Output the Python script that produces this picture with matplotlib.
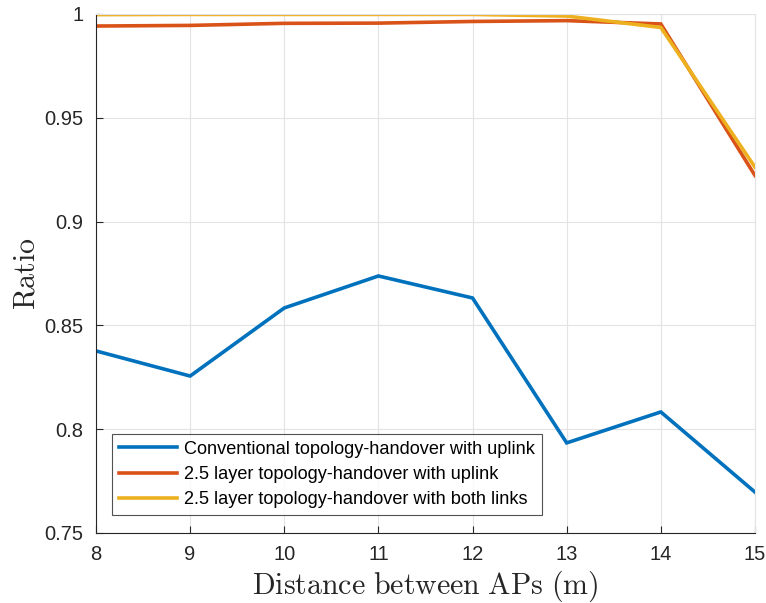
import matplotlib
matplotlib.use("Agg")
import matplotlib.pyplot as plt

distance = [8, 9, 10, 11, 12, 13, 14, 15]
conv_uplink = [0.8377, 0.8256, 0.8584, 0.8738, 0.8632, 0.7934, 0.8083, 0.7697]
layer25_uplink = [0.9942, 0.9945, 0.9955, 0.9956, 0.9964, 0.9968, 0.9952, 0.9222]
layer25_both = [0.9997, 0.9998, 0.9998, 0.9998, 0.9998, 0.9990, 0.9935, 0.9262]

labels = [
    "Conventional topology-handover with uplink",
    "2.5 layer topology-handover with uplink",
    "2.5 layer topology-handover with both links",
]
colors = ["#0072BD", "#D95319", "#EDB120"]

plt.rcParams["mathtext.fontset"] = "cm"
plt.rcParams["font.family"] = ["Liberation Sans", "DejaVu Sans"]

fig = plt.figure(figsize=(7.66, 6.03), dpi=100)
ax = fig.add_axes([0.1253, 0.1161, 0.8603, 0.8607])

for ys, lab, c in zip([conv_uplink, layer25_uplink, layer25_both], labels, colors):
    ax.plot(distance, ys, color=c, lw=2.6, label=lab, solid_joinstyle="miter")

ax.set_xlim(8, 15)
ax.set_ylim(0.75, 1.0)
ax.set_xticks(distance)
ax.set_yticks([0.75, 0.8, 0.85, 0.9, 0.95, 1.0])
ax.set_yticklabels(["0.75", "0.8", "0.85", "0.9", "0.95", "1"])
ax.grid(True, color="#e3e3e3", lw=0.8)
ax.set_axisbelow(True)
ax.tick_params(direction="in", length=5, width=0.8, labelsize=14.5, colors="#262626",
               top=False, right=False, pad=9)
for side in ("left", "bottom"):
    ax.spines[side].set_color("#262626")
    ax.spines[side].set_linewidth(0.8)
for side in ("top", "right"):
    ax.spines[side].set_color("#e3e3e3")
    ax.spines[side].set_linewidth(0.8)

ax.set_xlabel(r"$\mathrm{Distance\ between\ APs\ (m)}$", fontsize=21.5, color="#262626", labelpad=3)
ax.set_ylabel(r"$\mathrm{Ratio}$", fontsize=21.5, color="#262626", labelpad=3)

leg = ax.legend(loc="lower left", bbox_to_anchor=(0.0243, 0.0347), fontsize=13.1,
                frameon=True, fancybox=False, edgecolor="#262626", handlelength=3.2,
                handletextpad=0.4, borderpad=0.38, labelspacing=0.45, borderaxespad=0)
leg.get_frame().set_linewidth(0.8)

fig.savefig("out.png", dpi=100, facecolor="white")
